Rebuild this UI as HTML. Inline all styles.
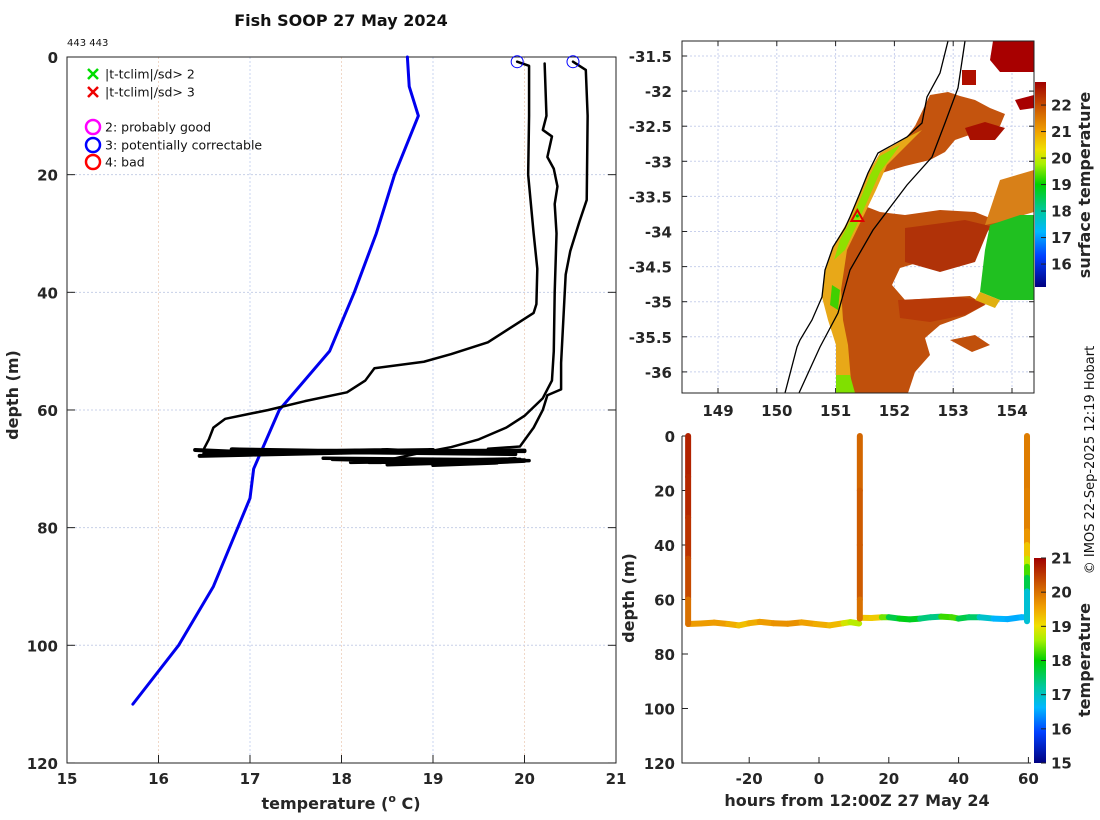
<!DOCTYPE html>
<html><head><meta charset="utf-8">
<style>
html,body{margin:0;padding:0;background:#fff;}
svg{display:block;font-family:"DejaVu Sans","Liberation Sans",sans-serif;}
.tk{font-size:15px;font-weight:bold;fill:#262626;}
.lab{font-size:16px;font-weight:bold;fill:#262626;}
</style></head>
<body>
<svg id="fig" width="1100" height="820" viewBox="0 0 1100 820">
<text x="341" y="26" text-anchor="middle" font-size="16" font-weight="bold" fill="#111">Fish SOOP 27 May 2024</text>
<text x="67" y="46" font-size="10" fill="#111">443 443</text>
<g id="left"></g>
<g id="map"></g>
<g id="br"></g>
<text transform="translate(1094,460) rotate(-90)" text-anchor="middle" font-size="13" fill="#111">© IMOS 22-Sep-2025 12:19 Hobart</text>
</svg>
<script>
const NS="http://www.w3.org/2000/svg";
function mk(tag,attrs,parent,text){const e=document.createElementNS(NS,tag);for(const k in attrs)e.setAttribute(k,attrs[k]);if(text!==undefined)e.textContent=text;parent.appendChild(e);return e;}

/* ---------- LEFT CHART DATA ---------- */
const tempTicks=[15,16,17,18,19,20,21];
const depthTicks=[0,20,40,60,80,100,120];
const climTemp=[18.72,18.74,18.84,18.58,18.38,18.14,17.87,17.32,17.04,17.0,16.6,16.22,15.72];
const climDepth=[0,5,10,20,30,40,50,60,70,75,90,100,110];
const profATemp=[19.92,20.05,20.05,20.04,20.1,20.14,20.13,20.1,19.9,19.6,19.2,18.9,18.36,18.26,18.06,17.6,17.2,16.73,16.6,16.55,16.5];
const profADepth=[0.8,1.5,10,20,30,36,42,43.5,45.5,48.5,50.5,51.8,52.9,55,57,58.5,60,61.5,63,65,66.5];
const profBTemp=[20.22,20.24,20.2,20.3,20.25,20.32,20.36,20.33,20.35,20.33,20.32,20.3,20.2,20.0,19.8,19.5,19.2,18.8,18.5];
const profBDepth=[1.1,10,12.4,13.5,17,19,22,25,30,40,50,55,58,61,63,65,66.3,67.5,68.5];
const profCTemp=[20.53,20.67,20.69,20.68,20.6,20.5,20.45,20.43,20.4,20.4,20.25,20.2,20.1,19.95,19.6];
const profCDepth=[0.8,2.2,10,24.3,28,33,37,43,52,56.5,57.5,60,63,66.2,66.6];
const upperTowTemp=[16.4,17.0,18.5,19.3,17.2,16.6,18.0,19.2,16.8,19.9,17.5,16.5,19.0,16.45,18.8,20.0,16.9,19.5,17.3,20.0];
const upperTowDepth=[66.8,67.2,66.8,67.4,66.9,67.6,67.0,67.3,66.7,67.5,67.1,67.4,66.8,67.8,67.0,66.9,67.3,67.1,66.9,67.0];
const lowerTowTemp=[17.8,20.0,18.1,19.9,18.5,20.05,17.9,19.7,19.0,20.0,18.3,19.5,18.6,19.95];
const lowerTowDepth=[68.2,68.5,68.9,68.3,69.3,68.6,68.4,69.0,69.4,68.7,68.9,68.6,69.1,68.4];
const flagTemp=[19.92,20.53];
const flagDepth=[0.8,0.8];

const L=document.getElementById('left');
const tx=t=>67+(t-15)*91.5, dy=d=>57+d*5.883;
tempTicks.forEach((t,i)=>{
  if(i>0&&i<tempTicks.length-1){const g=mk('line',{x1:tx(t),x2:tx(t),y1:57,y2:763,stroke:i%2?'#f0d8c8':'#c8d4f0','stroke-dasharray':'2,2','stroke-width':1},L);
  }
  mk('line',{x1:tx(t),x2:tx(t),y1:763,y2:755,stroke:'#222'},L);
  const lb=mk('text',{x:tx(t),y:784,'text-anchor':'middle',class:'tk'},L,String(t));
  
});
depthTicks.forEach((d,i)=>{
  if(i>0&&i<depthTicks.length-1){const g=mk('line',{x1:67,x2:616,y1:dy(d),y2:dy(d),stroke:'#c8d0e8','stroke-dasharray':'2,2'},L);
  }
  mk('line',{x1:67,x2:75,y1:dy(d),y2:dy(d),stroke:'#222'},L);
  mk('line',{x1:608,x2:616,y1:dy(d),y2:dy(d),stroke:'#222'},L);
  const lb=mk('text',{x:58,y:dy(d)+6,'text-anchor':'end',class:'tk'},L,String(d));
  
});
const lbox=mk('rect',{x:67,y:57,width:549,height:706,fill:'none',stroke:'#222','stroke-width':1},L);

function poly(T,D,color,w,name){const p=mk('polyline',{points:T.map((t,i)=>tx(t)+','+dy(D[i])).join(' '),fill:'none',stroke:color,'stroke-width':w,'stroke-linejoin':'round','stroke-linecap':'round'},L);
  }
poly(climTemp,climDepth,'#0000ee',3,'climatology-line');
poly(profATemp,profADepth,'#000',2.5,'profile-a-line');
poly(profBTemp,profBDepth,'#000',2.5,'profile-b-line');
poly(profCTemp,profCDepth,'#000',2.5,'profile-c-line');
poly(upperTowTemp,upperTowDepth,'#000',4,'upper-tow-line');
poly(lowerTowTemp,lowerTowDepth,'#000',3.5,'lower-tow-line');
flagTemp.forEach((t,i)=>{const c=mk('circle',{cx:tx(t),cy:dy(flagDepth[i]),r:6,fill:'none',stroke:'#0000ff','stroke-width':1},L);
  });
const lg=mk('g',{},L);
[['#00dd00','|t-tclim|/sd> 2',74],['#ee0000','|t-tclim|/sd> 3',92]].forEach(a=>{
  const g=mk('g',{},lg);
  mk('path',{d:`M88,${a[2]-5}L98,${a[2]+5}M98,${a[2]-5}L88,${a[2]+5}`,stroke:a[0],'stroke-width':2.5},g);
  mk('text',{x:105,y:a[2]+4.5,'font-size':12.5,fill:'#111'},g,a[1]);});
[['#ff00ff','2: probably good',127],['#0000ff','3: potentially correctable',145],['#ff0000','4: bad',162]].forEach(a=>{
  const g=mk('g',{},lg);
  mk('circle',{cx:93,cy:a[2],r:7,fill:'none',stroke:a[0],'stroke-width':2.5},g);
  mk('text',{x:105,y:a[2]+4.5,'font-size':12.5,fill:'#111'},g,a[1]);});
const yl=mk('text',{transform:'translate(18,395) rotate(-90)','text-anchor':'middle',class:'lab'},L,'depth (m)');

const xl=mk('text',{x:341,y:809,'text-anchor':'middle',class:'lab'},L);
xl.innerHTML='temperature (<tspan dy="-7" font-size="11">o</tspan><tspan dy="7"> C)</tspan>';


/* ---------- COLOR MAP ---------- */
const cstops=[[0,'#000080'],[0.15,'#0040ff'],[0.27,'#00b8ff'],[0.37,'#00c8a0'],[0.5,'#00d000'],[0.6,'#a8f000'],[0.67,'#f0e000'],[0.76,'#f0a000'],[0.86,'#d06000'],[1,'#a00000']];
function hex(h){return [1,3,5].map(i=>parseInt(h.substr(i,2),16));}
function cmap(f){f=Math.max(0,Math.min(1,f));for(let i=1;i<cstops.length;i++){if(f<=cstops[i][0]){const a=cstops[i-1],b=cstops[i],u=(f-a[0])/(b[0]-a[0]);const A=hex(a[1]),B=hex(b[1]);return 'rgb('+A.map((v,k)=>Math.round(v+(B[k]-v)*u)).join(',')+')';}}return cstops[cstops.length-1][1];}
const defs=mk('defs',{},document.getElementById('fig'));
const grad=mk('linearGradient',{id:'cbar',x1:0,y1:1,x2:0,y2:0},defs);
cstops.forEach(s=>mk('stop',{offset:s[0],'stop-color':s[1]},grad));

/* ---------- MAP ---------- */
const lonTicks=[149,150,151,152,153,154];
const latTicks=[-31.5,-32,-32.5,-33,-33.5,-34,-34.5,-35,-35.5,-36];
const sstTicks=[16,17,18,19,20,21,22];
const shipLon=[151.37];
const shipLat=[-33.78];
const M=document.getElementById('map');
const lx=l=>718+(l-149)*58.8, ly=l=>56+(-31.5-l)*70.2;
const clip=mk('clipPath',{id:'mclip'},defs);mk('rect',{x:682,y:41,width:352,height:352},clip);
lonTicks.forEach(l=>{mk('line',{x1:lx(l),x2:lx(l),y1:41,y2:393,stroke:'#c8d0ec','stroke-dasharray':'2,2'},M);
  mk('line',{x1:lx(l),x2:lx(l),y1:41,y2:46,stroke:'#222'},M);mk('line',{x1:lx(l),x2:lx(l),y1:388,y2:393,stroke:'#222'},M);
  const t=mk('text',{x:lx(l),y:416,'text-anchor':'middle',class:'tk'},M,String(l));});
latTicks.forEach(l=>{mk('line',{x1:682,x2:1034,y1:ly(l),y2:ly(l),stroke:'#c8d0ec','stroke-dasharray':'2,2'},M);
  mk('line',{x1:682,x2:687,y1:ly(l),y2:ly(l),stroke:'#222'},M);mk('line',{x1:1029,x2:1034,y1:ly(l),y2:ly(l),stroke:'#222'},M);
  const t=mk('text',{x:672,y:ly(l)+6,'text-anchor':'end',class:'tk'},M,String(l));});
const sst=mk('g',{'clip-path':'url(#mclip)'},M);
const P=(pts,fill)=>mk('polygon',{points:pts,fill:fill},sst);
/* northern coastal band */
P('930,95 948,92 960,96 975,100 990,108 1005,114 1000,126 978,132 955,140 945,152 930,160 905,166 885,172 872,178 880,160 900,146 915,126','#c4540e');
/* southern main mass */
P('862,205 880,212 905,215 940,210 975,212 1000,222 990,230 960,240 935,248 920,262 900,268 892,285 905,300 935,298 970,296 985,305 965,316 940,325 925,338 930,355 915,372 908,393 838,393 836,340 840,290 845,255 852,230','#c0500c');
P('905,228 965,220 990,226 975,262 940,272 905,262','#b03208');
P('898,300 960,297 990,302 965,315 930,322 900,318','#b83a08');
P('950,340 975,335 990,345 972,352','#c0500c');
P('993,41 1034,41 1034,72 1000,72 990,60','#a80000');
P('1015,100 1034,95 1034,108 1020,110','#a80000');
P('962,70 976,70 976,85 962,85','#b01000');
P('965,128 985,122 1005,128 995,140 970,140','#a81000');
P('1000,180 1034,170 1034,212 1000,222 985,225','#d88018');
P('990,225 1020,215 1034,215 1034,300 1000,300 980,292 985,250','#20c020');
P('980,292 1000,300 995,308 975,300','#e0b010');
/* coastal strip */
P('908,137 880,153 868,173 860,193 850,217 833,247 825,270 822,297 828,320 836,345 836,393 852,393 848,345 843,320 841,290 847,250 864,215 876,190 887,165 902,150 922,130','#e8a818');
P('900,145 880,156 870,175 862,195 852,218 840,240 834,260 845,250 860,218 870,195 880,172 893,155','#90e000');
P('836,375 850,375 855,393 836,393','#80e000');
P('832,285 840,290 838,310 830,305','#40d000');
const coast=mk('polyline',{points:'948,41 940,73 927,97 922,123 907,137 878,153 868,173 860,193 850,217 845,228 833,247 825,270 822,297 812,320 800,340 797,347 785,393',fill:'none',stroke:'#000','stroke-width':1.3},M);

const shelf=mk('polyline',{points:'965,41 958,88 945,123 932,157 907,185 873,230 850,270 838,313 820,347 799,393',fill:'none',stroke:'#000','stroke-width':1.3},M);

shipLon.forEach((l,i)=>{const x=lx(l),y=ly(shipLat[i]);
  const tr=mk('polygon',{points:`${x},${y-6} ${x-6},${y+5} ${x+6},${y+5}`,fill:'none',stroke:'#e00000','stroke-width':2},M);
  
  mk('circle',{cx:x,cy:y,r:1.5,fill:'#00c000'},M);});
const mbox=mk('rect',{x:682,y:41,width:352,height:352,fill:'none',stroke:'#222'},M);

const cb1=mk('rect',{x:1035,y:82,width:11,height:205,fill:'url(#cbar)'},M);

const sy=v=>82+(22.87-v)*26.5;
sstTicks.forEach(v=>{mk('line',{x1:1041,x2:1046,y1:sy(v),y2:sy(v),stroke:'#222'},M);
  const t=mk('text',{x:1051,y:sy(v)+5.5,class:'tk'},M,String(v));});
const st=mk('text',{transform:'translate(1090,185) rotate(-90)','text-anchor':'middle',class:'lab','font-size':15},M,'surface temperature');


/* ---------- BOTTOM RIGHT DATA ---------- */
const hourTicks=[-20,0,20,40,60];
const depthTicks2=[0,20,40,60,80,100,120];
const tempTicks2=[15,16,17,18,19,20,21];
const p1Hour=[-37.5,-37.5,-37.5,-37.5,-37.5,-37.5];
const p1Depth=[0,15,30,45,60,69];
const p1Temp=[20.7,20.7,20.6,20.5,20.2,19.8];
const tow1Hour=[-37.5,-34,-30,-26,-23,-20,-17,-13,-9,-5,-1,3,7,9,11.5];
const tow1Depth=[69,68.8,68.5,69,69.5,68.7,68.2,68.7,68.9,68.4,69,69.5,68.7,68.3,68.8];
const tow1Temp=[19.6,19.6,19.6,19.6,19.3,19.3,19.6,19.6,19.8,19.6,19.5,19.4,19.3,18.4,19.0];
const p2Hour=[11.7,11.7,11.7,11.7,11.7];
const p2Depth=[0,20,40,60,67];
const p2Temp=[20.0,20.2,20.2,20.2,19.8];
const tow2Hour=[11.7,15,18,20,23,26,29,32,35,38,40,43,46,50,54,58,59.6];
const tow2Depth=[66.7,66.8,66.5,66.5,67,67.3,67,66.5,66.3,66.5,67,66.5,66.5,67,67.2,66.5,66.5];
const tow2Temp=[19.2,19.3,19.1,17.7,17.6,18.2,17.5,17.3,17.4,19.0,17.5,17.8,17.2,16.7,16.5,16.6,16.6];
const p3Hour=[59.6,59.6,59.6,59.6,59.6,59.6,59.6,59.6,59.6];
const p3Depth=[0,20,35,40,45,48,52,57,68];
const p3Temp=[19.9,19.9,19.8,19.5,19.0,18.5,18.0,17.3,16.5];

const B=document.getElementById('br');
const hx=h=>819+h*3.49, by=d=>436+d*2.725;
const tf=t=>(t-15)/6;
hourTicks.forEach(h=>{mk('line',{x1:hx(h),x2:hx(h),y1:763,y2:757,stroke:'#222'},B);
  const t=mk('text',{x:hx(h),y:784,'text-anchor':'middle',class:'tk'},B,String(h));});
depthTicks2.forEach(d=>{mk('line',{x1:682,x2:688,y1:by(d),y2:by(d),stroke:'#222'},B);
  const t=mk('text',{x:675,y:by(d)+6,'text-anchor':'end',class:'tk'},B,String(d));});
mk('path',{d:'M682,436V763H1031',fill:'none',stroke:'#222'},B);
function track(H,D,T,name){const g=mk('g',{},B);
  for(let i=0;i<H.length-1;i++){mk('line',{x1:hx(H[i]),y1:by(D[i]),x2:hx(H[i+1]),y2:by(D[i+1]),stroke:cmap(tf((T[i]+T[i+1])/2)),'stroke-width':6,'stroke-linecap':'round'},g);}}
track(tow1Hour,tow1Depth,tow1Temp,'tow-1-track');
track(tow2Hour,tow2Depth,tow2Temp,'tow-2-track');
track(p1Hour,p1Depth,p1Temp,'profile-1-track');
track(p2Hour,p2Depth,p2Temp,'profile-2-track');
track(p3Hour,p3Depth,p3Temp,'profile-3-track');
const cb2=mk('rect',{x:1034,y:558,width:12,height:205,fill:'url(#cbar)'},B);

const cy2=v=>763-(v-15)*(205/6);
tempTicks2.forEach(v=>{mk('line',{x1:1041,x2:1046,y1:cy2(v),y2:cy2(v),stroke:'#222'},B);
  const t=mk('text',{x:1051,y:cy2(v)+5.5,class:'tk'},B,String(v));});
const tt=mk('text',{transform:'translate(1090,660) rotate(-90)','text-anchor':'middle',class:'lab','font-size':15},B,'temperature');

const by2=mk('text',{transform:'translate(634,598) rotate(-90)','text-anchor':'middle',class:'lab'},B,'depth (m)');

const bx=mk('text',{x:857,y:806,'text-anchor':'middle',class:'lab'},B,'hours from 12:00Z 27 May 24');

</script>
</body></html>
